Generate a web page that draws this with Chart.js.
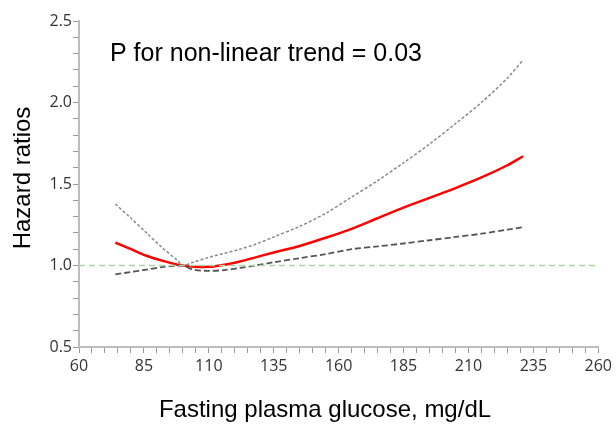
<!DOCTYPE html>
<html>
<head>
<meta charset="utf-8">
<script src="https://cdn.jsdelivr.net/npm/chart.js@4"></script>
<style>
  html, body { margin: 0; padding: 0; background: #fff; }
  #wrap { width: 616px; height: 425px; }
</style>
</head>
<body>
<div id="wrap"><canvas id="hrChart"></canvas></div>
<script>
// fasting plasma glucose (mg/dL) and the spline hazard ratios
var glucose = [74, 80, 86, 92, 98, 100, 104, 110, 116, 122, 128, 135, 145, 155, 165, 175, 185, 195, 205, 215, 225, 231];
var hrMain  = [1.14, 1.10, 1.06, 1.03, 1.005, 1.0, 0.993, 0.992, 1.005, 1.025, 1.05, 1.08, 1.12, 1.17, 1.225, 1.29, 1.355, 1.415, 1.475, 1.54, 1.615, 1.67];
var hrUpper = [1.377, 1.29, 1.20, 1.11, 1.03, 1.0, 1.02, 1.05, 1.075, 1.10, 1.13, 1.175, 1.24, 1.32, 1.42, 1.52, 1.63, 1.745, 1.87, 2.0, 2.15, 2.26];
var hrLower = [0.946, 0.96, 0.975, 0.99, 1.0, 1.0, 0.975, 0.967, 0.972, 0.985, 1.0, 1.02, 1.045, 1.07, 1.10, 1.117, 1.135, 1.155, 1.175, 1.195, 1.22, 1.235];
var refX = [60, 260];
var refY = [1.0, 1.0];
var pText = 'P for non-linear trend = 0.03';
var xTitle = 'Fasting plasma glucose, mg/dL';
var yTitle = 'Hazard ratios';

function pts(xs, ys) {
    return xs.map(function (x, i) { return { x: x, y: ys[i] }; });
}

// annotation + axis titles, placed by hand like in the figure
var textPlugin = {
    id: 'texts',
    afterDraw: function (chart) {
        var c = chart.ctx;
        c.save();
        c.fillStyle = '#000';
        c.textBaseline = 'alphabetic';
        c.font = '25px "Liberation Sans", Arial, sans-serif';
        c.textAlign = 'left';
        c.fillText(pText, 110, 61);

        c.font = '24px "Liberation Sans", Arial, sans-serif';
        c.textAlign = 'center';
        c.fillText(xTitle, 325, 417);

        c.translate(30, 178);
        c.rotate(-Math.PI / 2);
        c.fillText(yTitle, 0, 0);
        c.restore();
    }
};

var tickFont = { family: '"Open Sans", sans-serif', size: 16 };
var axisGrey = '#bdbdbd';
var tickGrey = '#9a9a9a';

var ctx = document.getElementById('hrChart').getContext('2d');
var chart = new Chart(ctx, {
    type: 'line',
    data: {
        datasets: [{
            data: pts(refX, refY),
            borderColor: '#a9d6a0',
            borderWidth: 1.5,
            borderDash: [6, 4],
            tension: 0
        }, {
            data: pts(glucose, hrUpper),
            borderColor: '#8a8a8a',
            borderWidth: 1.5,
            borderDash: [3, 2]
        }, {
            data: pts(glucose, hrLower),
            borderColor: '#555',
            borderWidth: 1.8,
            borderDash: [6, 3]
        }, {
            data: pts(glucose, hrMain),
            borderColor: '#ff0000',
            borderWidth: 2.5
        }]
    },
    options: {
        responsive: true,
        maintainAspectRatio: false,
        animation: false,
        layout: { padding: { top: 21, right: 16, left: 0, bottom: 0 } },
        elements: { point: { radius: 0 }, line: { tension: 0.3 } },
        plugins: { legend: { display: false }, tooltip: { enabled: false } },
        scales: {
            x: {
                type: 'linear',
                min: 60,
                max: 260,
                afterFit: function (s) { s.height = 78; },
                ticks: {
                    stepSize: 5,
                    autoSkip: false,
                    maxRotation: 0,
                    padding: 4,
                    color: '#333',
                    font: tickFont,
                    callback: function (v) { return (v - 60) % 25 === 0 ? String(v) : ' '; }
                },
                grid: { display: true, drawOnChartArea: false, drawTicks: true, tickLength: 6, tickColor: tickGrey, color: tickGrey, lineWidth: 1 },
                border: { display: true, color: axisGrey, width: 2 }
            },
            y: {
                min: 0.5,
                max: 2.5,
                afterFit: function (s) { s.width = 79; },
                ticks: {
                    stepSize: 0.1,
                    autoSkip: false,
                    padding: 1,
                    color: '#333',
                    font: tickFont,
                    callback: function (v) { return Math.round(v * 10) % 5 === 0 ? v.toFixed(1) : ' '; }
                },
                grid: { display: true, drawOnChartArea: false, drawTicks: true, tickLength: 6, tickColor: tickGrey, color: tickGrey, lineWidth: 1 },
                border: { display: true, color: axisGrey, width: 2 }
            }
        }
    },
    plugins: [textPlugin]
});
</script>
</body>
</html>
